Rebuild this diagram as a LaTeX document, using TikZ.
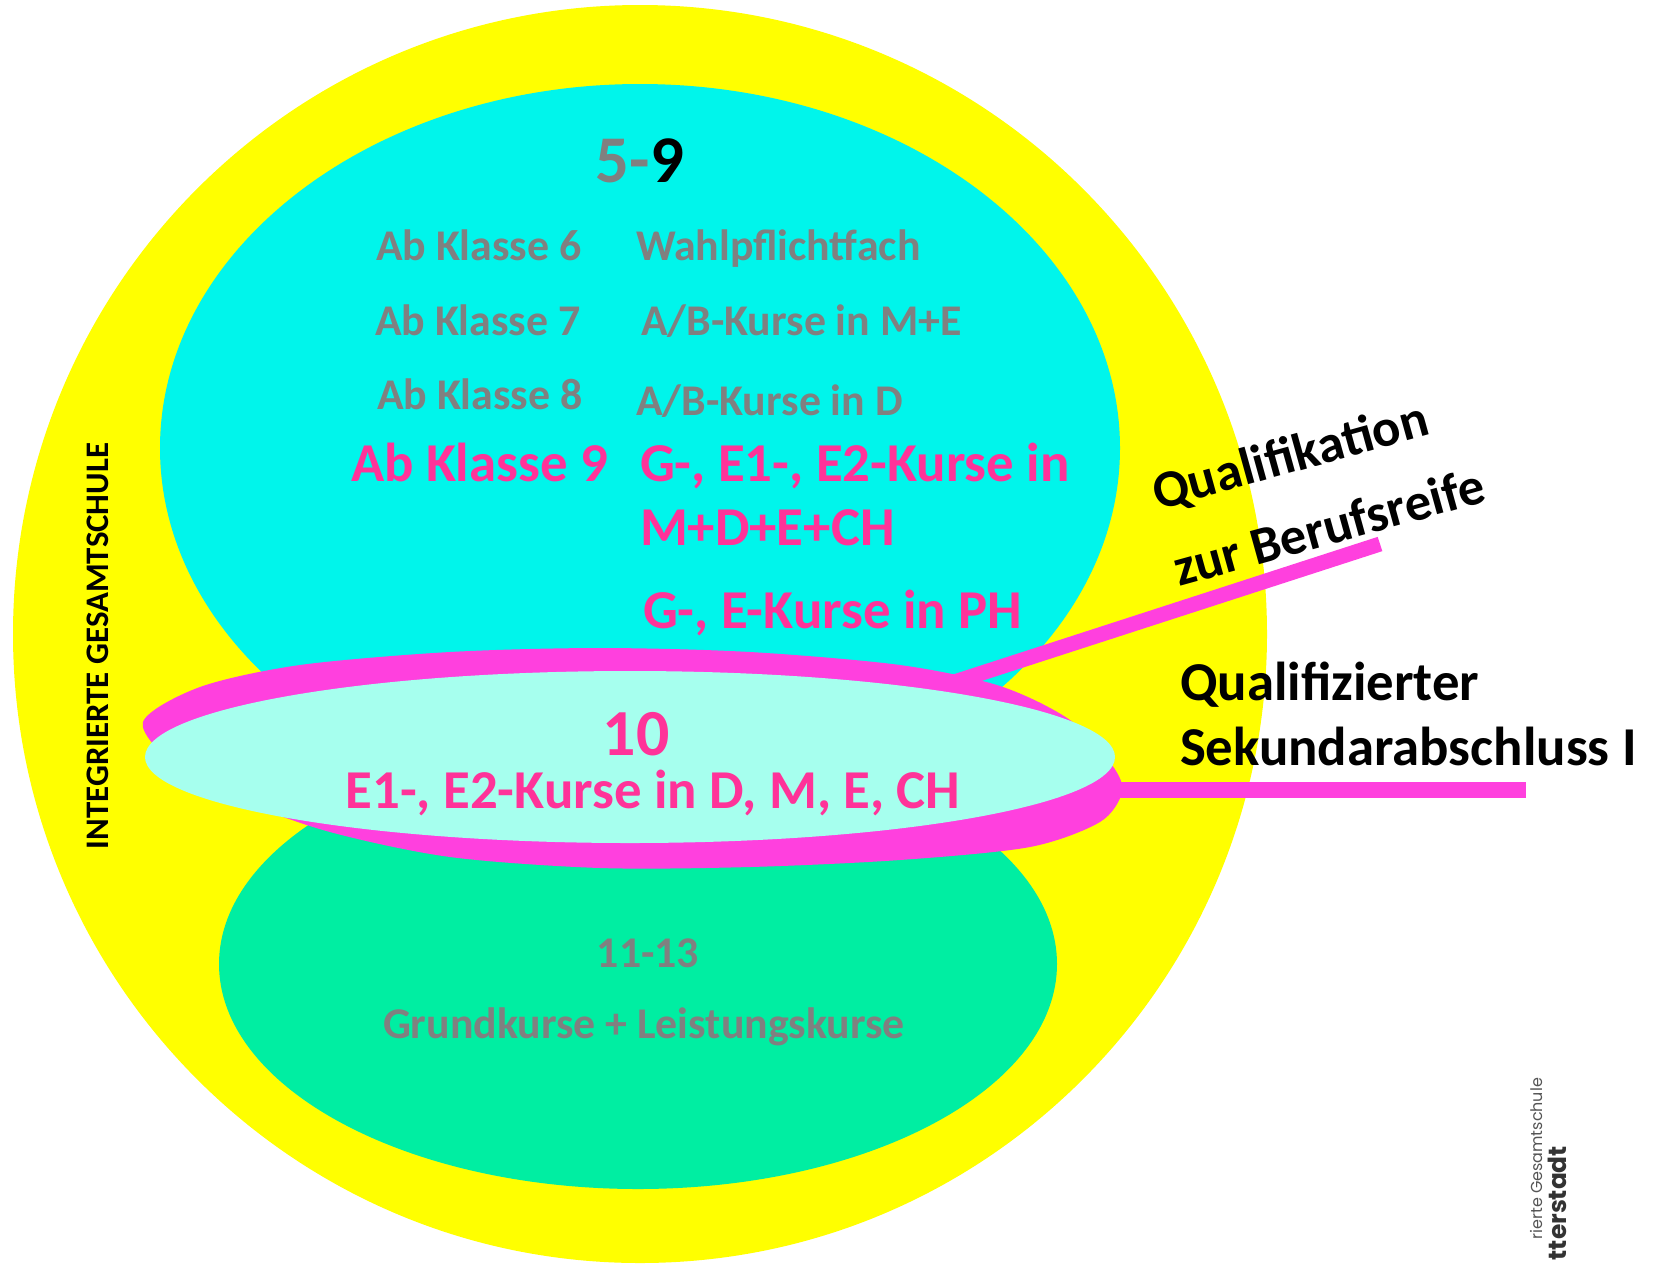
\documentclass[tikz,border=0pt]{standalone}
\usepackage{fontspec}
\setmainfont{Carlito}
\newfontfamily\logofont{Poppins}
\definecolor{yellowbg}{RGB}{255,255,0}
\definecolor{cyanA}{RGB}{0,245,235}
\definecolor{greenA}{RGB}{0,238,162}
\definecolor{lightc}{RGB}{166,255,238}
\definecolor{ringc}{RGB}{255,64,222}
\definecolor{pinkt}{RGB}{255,51,153}
\definecolor{grayt}{RGB}{128,128,128}
\begin{document}
\begin{tikzpicture}[x=1bp,y=-1bp,
  txt/.style={inner sep=0pt, outer sep=0pt},
  graytxt/.style={txt, text=grayt, font=\fontsize{44}{53}\selectfont\bfseries},
  pinktxt/.style={txt, text=pinkt, font=\fontsize{55}{66}\selectfont\bfseries},
  blacktxt/.style={txt, text=black, font=\fontsize{55}{66}\selectfont\bfseries},
  connector/.style={draw=ringc, line width=15bp, line cap=butt}]
\useasboundingbox (0,0) rectangle (1653,1263);
\clip (0,0) rectangle (1653,1263);
\fill[white] (0,0) rectangle (1653,1263);
% shapes
\fill[yellowbg] (640,634) ellipse [x radius=627, y radius=629];
\fill[cyanA] (640,448) ellipse [x radius=480, y radius=364];
\fill[greenA] (638,964) ellipse [x radius=419, y radius=225];
\fill[ringc] plot[smooth cycle] coordinates {(143,722) (200,687) (300,665) (450,652) (600,648) (750,652) (900,665) (1000,686) (1070,720) (1112,765) (1122,792) (1100,822) (1030,847) (900,860) (750,867) (600,868) (450,857) (330,832) (240,800) (175,765)};
% connectors
\coordinate (ring1) at (948,684);
\coordinate (ring2) at (1095,790);
\coordinate (end1) at (1380,544);
\coordinate (end2) at (1526,790);
\draw[connector] (ring1) -- (end1);
\draw[connector, line width=16bp] (ring2) -- (end2);
\fill[lightc] (630,757) ellipse [x radius=485, y radius=86];
% top area texts
\node[txt, anchor=base, font=\fontsize{67}{80}\selectfont\bfseries] (t59) at (640,182) {\textcolor{grayt}{5-}\textcolor{black}{9}};
\node[graytxt, anchor=base west] (k6) at (376,260) {Ab Klasse 6};
\node[graytxt, anchor=base west] (w6) at (636,260) {Wahlpflichtfach};
\node[graytxt, anchor=base west] (k7) at (375,335) {Ab Klasse 7};
\node[graytxt, anchor=base west] (w7) at (641,335) {A/B-Kurse in M+E};
\node[graytxt, anchor=base west] (k8) at (377,409) {Ab Klasse 8};
\node[graytxt, anchor=base west] (w8) at (636,415) {A/B-Kurse in D};
\node[pinktxt, anchor=base west] (k9) at (351,481) {Ab Klasse 9};
\node[pinktxt, anchor=base west] (w9a) at (640,481) {G-, E1-, E2-Kurse in};
\node[pinktxt, anchor=base west] (w9b) at (640,545) {M+D+E+CH};
\node[pinktxt, anchor=base west] (w9c) at (643,628) {G-, E-Kurse in PH};
% ring texts
\node[txt, anchor=base, text=pinkt, font=\fontsize{66}{79}\selectfont\bfseries] (t10) at (636,755) {10};
\node[txt, anchor=base, text=pinkt, font=\fontsize{55}{66}\selectfont\bfseries] (k10) at (653,808) {E1-, E2-Kurse in D, M, E, CH};
% bottom texts
\node[graytxt, anchor=base] (t1113) at (648,967) {11-13};
\node[graytxt, anchor=base] (gk) at (644,1038) {Grundkurse + Leistungskurse};
% right labels
\node[txt, text=black, font=\fontsize{53}{80}\selectfont\bfseries, anchor=base west, rotate=15.5] (q1) at (1158,510) {\vtop{\hbox{Qualifikation}\hbox{zur Berufsreife}}};
\node[blacktxt, anchor=base west] (s1) at (1180,700) {Qualifizierter};
\node[blacktxt, anchor=base west] (s2) at (1180,765) {Sekundarabschluss I};
% side label
\node[txt, rotate=90, text=black, font=\fontsize{33}{40}\selectfont\bfseries] (igs) at (98,646) {INTEGRIERTE GESAMTSCHULE};
% logo remnants
\node[txt, rotate=90, anchor=base east, text={rgb,255:red,85;green,85;blue,85}, font=\logofont\fontsize{16}{19}\selectfont] (logo1) at (1542,1078) {rierte Gesamtschule};
\node[txt, rotate=90, anchor=base east, text={rgb,255:red,51;green,51;blue,51}, font=\logofont\bfseries\fontsize{25}{30}\selectfont] (logo2) at (1566,1146) {tterstadt};
\end{tikzpicture}
\end{document}
